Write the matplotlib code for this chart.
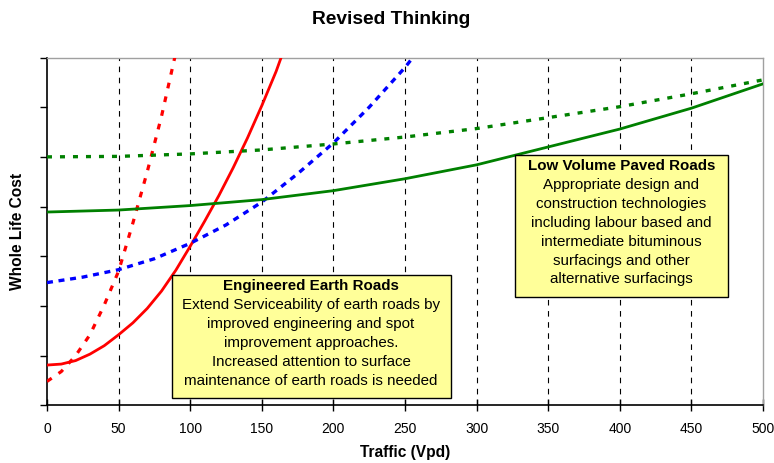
import matplotlib
matplotlib.use("Agg")
import matplotlib.pyplot as plt
from matplotlib.patches import Rectangle

plt.rcParams["font.family"] = ["Liberation Sans", "DejaVu Sans"]

# ── Data ─────────────────────────────────────────────────────────────────────
earth_x = [0, 10, 20, 30, 40, 50, 60, 70, 80, 90, 100, 110, 120, 130, 140, 150, 160, 163.5]
earth_y = [0.81, 0.83, 0.90, 1.03, 1.20, 1.42, 1.66, 1.95, 2.30, 2.72, 3.20, 3.70,
           4.22, 4.78, 5.38, 6.03, 6.72, 7.0]

earth_dot_x = [0, 10, 20, 30, 40, 50, 60, 70, 80, 90]
earth_dot_y = [0.48, 0.68, 1.00, 1.42, 2.02, 2.70, 3.67, 4.70, 5.82, 7.10]

gravel_x = [0, 25, 50, 75, 100, 125, 150, 175, 200, 225, 250, 255.5]
gravel_y = [2.47, 2.58, 2.73, 2.95, 3.26, 3.63, 4.09, 4.66, 5.28, 6.00, 6.80, 7.0]

paved_x = [0, 50, 100, 150, 200, 250, 300, 350, 400, 450, 500]
paved_y = [3.89, 3.93, 4.02, 4.14, 4.32, 4.56, 4.84, 5.20, 5.56, 5.98, 6.47]
paved_dot_y = [5.00, 5.01, 5.06, 5.14, 5.26, 5.40, 5.57, 5.79, 6.01, 6.27, 6.55]

x_ticks = list(range(0, 501, 50))

earth_title = "Engineered Earth Roads"
earth_lines = ("Extend Serviceability of earth roads by\n"
               "improved engineering and spot\n"
               "improvement approaches.\n"
               "Increased attention to surface\n"
               "maintenance of earth roads is needed")
paved_title = "Low Volume Paved Roads"
paved_lines = ("Appropriate design and\n"
               "construction technologies\n"
               "including labour based and\n"
               "intermediate bituminous\n"
               "surfacings and other\n"
               "alternative surfacings")

# ── Figure ───────────────────────────────────────────────────────────────────
fig = plt.figure(figsize=(7.74, 4.63), dpi=100)
ax = fig.add_axes([0.0607, 0.1246, 0.9251, 0.7512])

for xv in x_ticks[1:-1]:
    ax.axvline(xv, color="black", lw=0.8, ls=(0, (5, 5)), zorder=1)

ax.plot(earth_x, earth_y, color="#FF0000", lw=2.0, zorder=3)
ax.plot(earth_dot_x, earth_dot_y, color="#FF0000", lw=2.3, ls=(0, (1.8, 2.6)), zorder=3)
ax.plot(gravel_x, gravel_y, color="#0000FF", lw=2.4, ls=(0, (1.8, 1.7)), zorder=3)
ax.plot(paved_x, paved_y, color="#008000", lw=2.0, zorder=3)
ax.plot(paved_x, paved_dot_y, color="#008000", lw=2.4, ls=(0, (1.5, 2.4)), zorder=3)

ax.set_xlim(0, 500)
ax.set_ylim(0, 7)
ax.set_xticks(x_ticks)
ax.set_yticks(range(0, 8))
ax.set_yticklabels([])
ax.tick_params(axis="x", direction="inout", length=8, width=1, labelsize=10, pad=8)
ax.tick_params(axis="y", direction="out", length=5, width=1)

for s in ["top", "right"]:
    ax.spines[s].set_color("#A0A0A0")
    ax.spines[s].set_linewidth(1.0)
for s in ["left", "bottom"]:
    ax.spines[s].set_color("black")
    ax.spines[s].set_linewidth(1.2)

# ── Text boxes ───────────────────────────────────────────────────────────────
ax.add_patch(Rectangle((87.1, 0.15), 194.8, 2.48, facecolor="#FFFF99",
                       edgecolor="black", lw=1.0, zorder=4))
ax.text(184.4, 2.40, earth_title, ha="center", va="center", fontsize=10.9,
        fontweight="bold", zorder=5)
ax.text(184.4, 2.16, earth_lines, ha="center", va="top", fontsize=10.9,
        linespacing=1.45, zorder=5)

ax.add_patch(Rectangle((326.6, 2.18), 148.7, 2.86, facecolor="#FFFF99",
                       edgecolor="black", lw=1.0, zorder=4))
ax.text(401, 4.82, paved_title, ha="center", va="center", fontsize=10.9,
        fontweight="bold", zorder=5)
ax.text(401, 4.58, paved_lines, ha="center", va="top", fontsize=10.9,
        linespacing=1.45, zorder=5)

# ── Labels ───────────────────────────────────────────────────────────────────
fig.text(391 / 774, 1 - 20 / 463, "Revised Thinking", ha="center", va="center",
         fontsize=13.8, fontweight="bold")
fig.text(405 / 774, 1 - 452 / 463, "Traffic (Vpd)", ha="center", va="center",
         fontsize=11.2, fontweight="bold")
fig.text(18 / 774, 1 - 231 / 463, "Whole Life Cost", ha="center", va="center",
         fontsize=11.2, fontweight="bold", rotation=90)

fig.savefig("out.png", dpi=100)
